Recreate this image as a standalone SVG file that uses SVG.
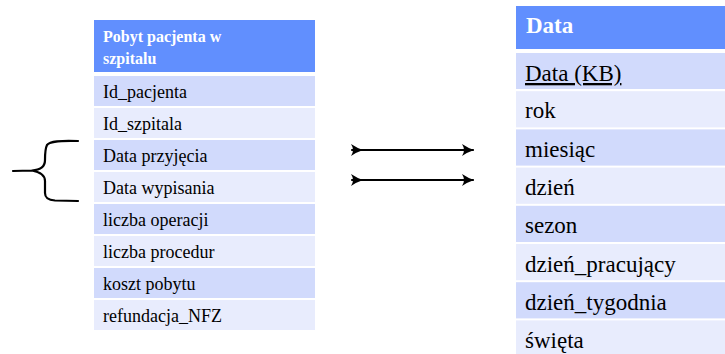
<svg xmlns="http://www.w3.org/2000/svg" width="725" height="354" viewBox="0 0 725 354">
<style>
.hdr{fill:#618FFE}
.dk{fill:#D1DAFC}
.lt{fill:#E8ECFD}
.ln{fill:none;stroke:#000000;stroke-width:2.2;stroke-linecap:round;stroke-linejoin:round}
</style>
<defs>
<marker id="head" markerWidth="14" markerHeight="14" refX="12" refY="7" orient="auto" markerUnits="userSpaceOnUse">
<path d="M1,1 Q7,5 13,7 Q7,9 1,13 Q5,7 1,1 Z" fill="#000"/>
</marker>
<marker id="tail" markerWidth="14" markerHeight="14" refX="2" refY="7" orient="auto" markerUnits="userSpaceOnUse">
<path d="M1,1 Q7,5 13,7 Q7,9 1,13 Q5,7 1,1 Z" fill="#000"/>
</marker>
</defs>

<g id="pobyt" font-family="Times New Roman">
<rect class="hdr" x="94" y="20" width="221" height="52"/>
<text font-weight="bold" fill="#ffffff" font-size="16" x="103" y="42">Pobyt pacjenta w</text>
<text font-weight="bold" fill="#ffffff" font-size="16" x="103" y="64">szpitalu</text>
<rect class="dk" x="94" y="76" width="221" height="30"/>
<text font-size="18" x="103" y="98">Id_pacjenta</text>
<rect class="lt" x="94" y="108" width="221" height="30"/>
<text font-size="18" x="103" y="130">Id_szpitala</text>
<rect class="dk" x="94" y="140" width="221" height="30"/>
<text font-size="18" x="103" y="162">Data przyjęcia</text>
<rect class="lt" x="94" y="172" width="221" height="30"/>
<text font-size="18" x="103" y="194">Data wypisania</text>
<rect class="dk" x="94" y="204" width="221" height="30"/>
<text font-size="18" x="103" y="226">liczba operacji</text>
<rect class="lt" x="94" y="236" width="221" height="30"/>
<text font-size="18" x="103" y="258">liczba procedur</text>
<rect class="dk" x="94" y="268" width="221" height="30"/>
<text font-size="18" x="103" y="290">koszt pobytu</text>
<rect class="lt" x="94" y="300" width="221" height="30"/>
<text font-size="18" x="103" y="322">refundacja_NFZ</text>
</g>

<g id="data" font-family="Times New Roman">
<rect class="hdr" x="516" y="6" width="209" height="43"/>
<text font-weight="bold" fill="#ffffff" font-size="23" x="526" y="33">Data</text>
<rect class="dk" x="516" y="53" width="209" height="36"/>
<text font-size="23" x="525" y="81" text-decoration="underline">Data (KB)</text>
<rect class="lt" x="516" y="91.2" width="209" height="36.2"/>
<text font-size="23" x="525" y="118">rok</text>
<rect class="dk" x="516" y="129.4" width="209" height="36.2"/>
<text font-size="23" x="525" y="157">miesiąc</text>
<rect class="lt" x="516" y="167.6" width="209" height="36.2"/>
<text font-size="23" x="525" y="195">dzień</text>
<rect class="dk" x="516" y="205.8" width="209" height="36.2"/>
<text font-size="23" x="525" y="233">sezon</text>
<rect class="lt" x="516" y="244" width="209" height="36.2"/>
<text font-size="23" x="525" y="272">dzień_pracujący</text>
<rect class="dk" x="516" y="282.2" width="209" height="36.2"/>
<text font-size="23" x="525" y="310">dzień_tygodnia</text>
<rect class="lt" x="516" y="320.4" width="209" height="40"/>
<text font-size="23" x="525" y="348">święta</text>
</g>

<g id="connectors">
<line class="ln" x1="352" y1="150" x2="473" y2="150" marker-start="url(#tail)" marker-end="url(#head)"/>
<line class="ln" x1="352" y1="180" x2="473" y2="180" marker-start="url(#tail)" marker-end="url(#head)"/>
<path class="ln" d="M78,141 C60,140.5 50,141 47,145 C45,149 45,155 45,160 C45,167 40,170 32,170.5 L13,171 M32,170.5 C40,172 45,175 45,181 L45,193 C45,198 48,200 55,200.5 L78,201"/>
</g>
</svg>
